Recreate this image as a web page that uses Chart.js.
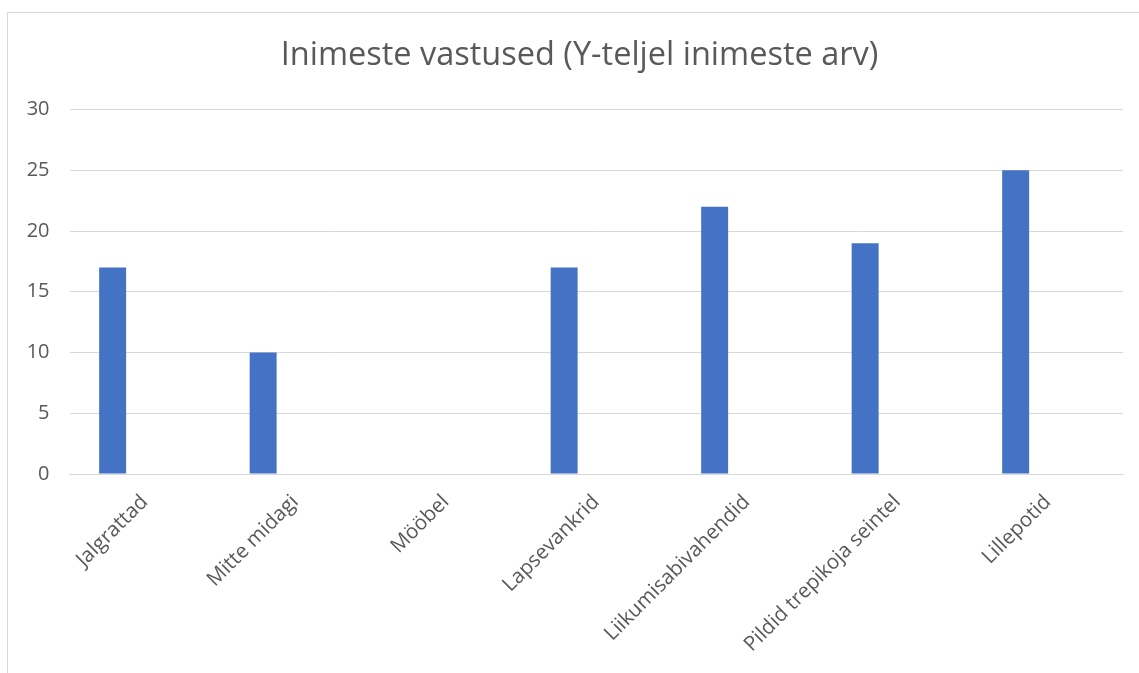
<!DOCTYPE html>
<html>
<head>
<meta charset="utf-8">
<script src="https://cdn.jsdelivr.net/npm/chart.js@4"></script>
<style>
    html, body { margin: 0; padding: 0; background: #fff; overflow: hidden; }
    #frame {
        position: absolute; left: 7px; top: 12px;
        width: 1140px; height: 670px;
        border-top: 1px solid #d9d9d9; border-left: 1px solid #d9d9d9;
    }
    #wrap { position: absolute; left: 0; top: 0; width: 1131px; height: 660px; }
</style>
</head>
<body>
<div id="frame"><div id="wrap"><canvas id="chart"></canvas></div></div>
<script>
// Chart data
const categories = ['Jalgrattad', 'Mitte midagi', 'Mööbel', 'Lapsevankrid',
    'Liikumisabivahendid', 'Pildid trepikoja seintel', 'Lillepotid'];
const responses = [17, 10, 0, 17, 22, 19, 25];
// the source chart keeps two empty series next to the filled one
const emptySeries = [null, null, null, null, null, null, null];
const yTicks = [0, 5, 10, 15, 20, 25, 30];

const titleText = 'Inimeste vastused (Y-teljel inimeste arv)';
const textColor = '#595959';
const gridColor = '#d9d9d9';
const barColor = '#4472c4';

// the reference title sits a little right of the canvas centre
const titleShift = {
    id: 'titleShift',
    afterLayout(chart) {
        const t = chart.titleBlock;
        if (t) { t.left += 14; t.right += 14; }
    }
};

const ctx = document.getElementById('chart').getContext('2d');
new Chart(ctx, {
    type: 'bar',
    data: {
        labels: categories,
        datasets: [
            { label: 'Vastused', data: responses, backgroundColor: barColor },
            { label: '', data: emptySeries, backgroundColor: barColor },
            { label: '', data: emptySeries, backgroundColor: barColor }
        ]
    },
    options: {
        responsive: true,
        maintainAspectRatio: false,
        animation: false,
        categoryPercentage: 0.64,
        barPercentage: 0.84,
        layout: { padding: { left: 0, right: 16, top: 0, bottom: 0 } },
        plugins: {
            legend: { display: false },
            tooltip: { enabled: false },
            title: {
                display: true,
                text: titleText,
                color: textColor,
                font: { family: 'Open Sans', size: 32.5, weight: 'normal', lineHeight: 1.2 },
                padding: { top: 23, bottom: 34.5 }
            }
        },
        scales: {
            x: {
                grid: { display: false },
                border: { display: true, color: gridColor, width: 1 },
                ticks: {
                    color: textColor,
                    font: { family: 'Open Sans', size: 20.5 },
                    maxRotation: 45,
                    minRotation: 45,
                    autoSkip: false,
                    padding: 8
                },
                afterFit(scale) { scale.height = 199; }
            },
            y: {
                min: 0,
                max: 30,
                afterBuildTicks(scale) { scale.ticks = yTicks.map(v => ({ value: v })); },
                grid: { color: gridColor, lineWidth: 1, drawTicks: false },
                border: { display: false },
                ticks: {
                    color: textColor,
                    font: { family: 'Open Sans', size: 20 },
                    padding: 20
                },
                afterFit(scale) { scale.width = 61.5; }
            }
        }
    },
    plugins: [titleShift]
});
</script>
</body>
</html>
